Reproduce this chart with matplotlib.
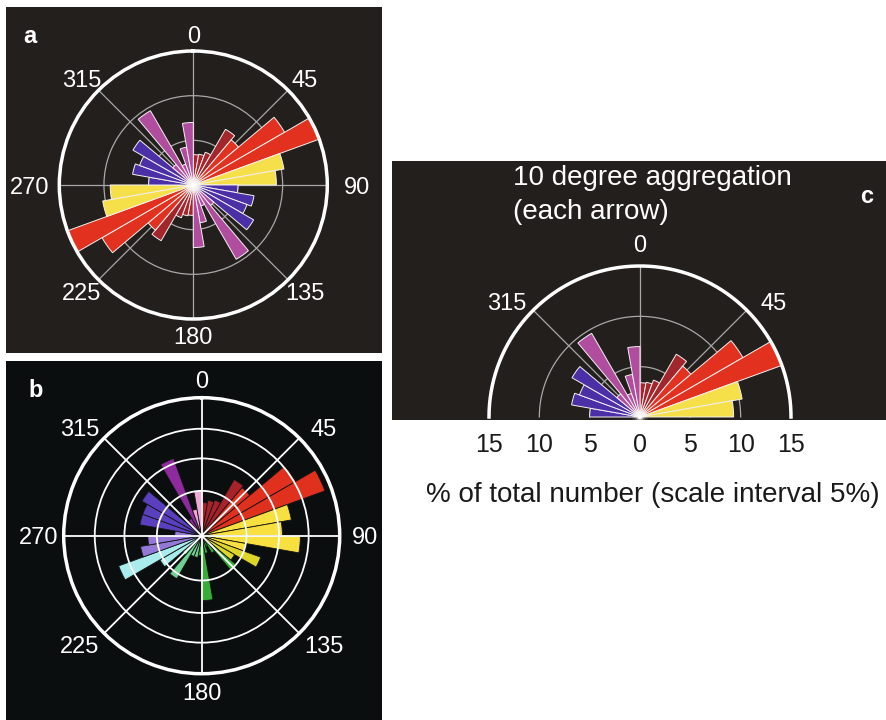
import numpy as np
import matplotlib
matplotlib.use('Agg')
import matplotlib.pyplot as plt
from matplotlib.patches import Rectangle

plt.rcParams['font.family'] = ['Liberation Sans', 'DejaVu Sans']

# ---------------- data ----------------
# Panel a / c : axial data, 10-degree sectors 0..170 (mirrored at +180), % of total number
a_sector_deg = list(range(0, 180, 10))
a_percent = [3.4, 3.5, 3.9, 7.2, 6.6, 11.8, 15.0, 10.3, 9.3,
             5.0, 6.9, 6.4, 7.8, 3.0, 9.6, 2.5, 4.3, 7.0]
a_group = ['darkred'] * 4 + ['red'] * 3 + ['yellow'] * 2 + ['blue'] * 4 + ['magenta'] * 5

# Panel b : directional data, 10-degree sectors 0..350
b_sector_deg = list(range(0, 360, 10))
b_value = [4.8, 5.2, 5.5, 9.4, 9.1, 15.7, 19.0, 13.2, 11.7, 14.3, 6.5, 9.1,
           5.5, 6.5, 2.9, 1.7, 2.6, 9.4, 2.9, 3.2, 3.2, 7.2, 3.6, 7.0,
           12.8, 9.0, 7.8, 3.9, 9.1, 9.1, 10.0, 2.2, 2.9, 11.9, 3.9, 6.5]
b_group = (['darkred'] * 4 + ['red'] * 3 + ['yellow'] * 4 + ['olive'] * 2 +
           ['green'] * 6 + ['lightgreen'] * 4 + ['cyan'] * 2 + ['lavender'] * 3 +
           ['indigo'] * 3 + ['purple'] * 3 + ['pink'] * 2)

dir_labels = ['0', '45', '90', '135', '180', '225', '270', '315']
dir_angles = [0, 45, 90, 135, 180, 225, 270, 315]
c_scale_ticks = [-15, -10, -5, 0, 5, 10, 15]

# ---------------- style ----------------
a_colors = {'darkred': '#a3262c', 'red': '#e2321f', 'yellow': '#f6e04a',
            'blue': '#4b2fa6', 'magenta': '#b04d9f'}
b_colors = {'darkred': '#a8222a', 'red': '#e0301e', 'yellow': '#f8e040',
            'olive': '#ded52a', 'green': '#38ad38', 'lightgreen': '#6fd08f',
            'cyan': '#a8ecec', 'lavender': '#9478d8', 'indigo': '#5a3fbf',
            'purple': '#8e2a9e', 'pink': '#f0a8d8'}
BG_A = '#231f1c'
BG_B = '#0a0e0e'

W, H = 887, 720
fig = plt.figure(figsize=(W / 100, H / 100), dpi=100)
fig.patch.set_facecolor('white')


def fx(px):
    return px / W


def fy(py):
    return 1 - py / H


def bg(x0, y0, x1, y1, color):
    fig.add_artist(Rectangle((fx(x0), fy(y1)), fx(x1 - x0), (y1 - y0) / H,
                             transform=fig.transFigure, facecolor=color,
                             edgecolor='none', zorder=-5))


def polar_ax(cx, cy, R):
    ax = fig.add_axes([fx(cx - R), fy(cy + R), fx(2 * R), 2 * R / H],
                      projection='polar')
    ax.set_theta_zero_location('N')
    ax.set_theta_direction(-1)
    ax.set_facecolor('none')
    return ax


def dir_text(ax, rmax, fs, kv, kh, kxd, kyd, keep=None):
    for lab, ang in zip(dir_labels, dir_angles):
        if keep is not None and ang not in keep:
            continue
        s, c = np.sin(np.radians(ang)), np.cos(np.radians(ang))
        if ang % 90 == 0:
            x, y = kh * s, kv * c
        else:
            x, y = kxd * s, kyd * c
        th = np.arctan2(x, y)
        r = rmax * np.hypot(x, y)
        ax.text(th, r, lab, ha='center', va='center_baseline',
                color='white', fontsize=fs, clip_on=False)


def glow(ax):
    for s, a in ((140, 0.10), (70, 0.2), (30, 0.45), (10, 0.9)):
        ax.scatter([0], [0], s=s, color='white', alpha=a, edgecolors='none',
                   zorder=4, clip_on=False)


# backgrounds
bg(6, 7, 382, 353, BG_A)
bg(6, 361, 382, 720, BG_B)
bg(392, 161, 887, 420, BG_A)

width = np.radians(10)

# ---------------- panel a ----------------
axa = polar_ax(193.3, 185, 134)
RA = 15
for s, v, g in zip(a_sector_deg, a_percent, a_group):
    for off in (0, 180):
        axa.bar(np.radians(s + 5 + off), v, width=width, color=a_colors[g],
                edgecolor='#f4f0f0', linewidth=0.7, zorder=2)
axa.set_ylim(0, RA)
axa.set_xticks(np.radians(dir_angles))
axa.set_xticklabels([])
axa.set_yticks([5, 10])
axa.set_yticklabels([])
axa.grid(True, color='#a8a8a8', linewidth=0.9)
axa.set_axisbelow(True)
axa.spines['polar'].set_color('white')
axa.spines['polar'].set_linewidth(2.5)
glow(axa)
dir_text(axa, RA, 17, kv=1.12, kh=1.22, kxd=1.18, kyd=1.12)
fig.text(fx(29.5), fy(43), 'a', color='white', fontsize=17, fontweight='bold',
         ha='center', va='baseline')

# ---------------- panel b ----------------
axb = polar_ax(201.7, 535.7, 138)
RB = 20
for s, v, g in zip(b_sector_deg, b_value, b_group):
    axb.bar(np.radians(s + 5), v, width=width, color=b_colors[g],
            edgecolor='#151515', linewidth=0.6, zorder=1)
axb.set_ylim(0, RB)
axb.set_xticks(np.radians(dir_angles))
axb.set_xticklabels([])
axb.set_yticks([6.5, 11.2, 15.5])
axb.set_yticklabels([])
axb.grid(True, color='white', linewidth=1.3)
axb.set_axisbelow(False)
axb.spines['polar'].set_color('white')
axb.spines['polar'].set_linewidth(2.5)
dir_text(axb, RB, 17, kv=1.13, kh=1.18, kxd=1.25, kyd=1.11)
fig.text(fx(35.5), fy(397), 'b', color='white', fontsize=17, fontweight='bold',
         ha='center', va='baseline')

# ---------------- panel c ----------------
axc = polar_ax(640, 417, 151)
RC = 15
axc.set_ylim(0, RC)
axc.grid(False)
axc.set_xticks([])
axc.set_yticks([])
axc.spines['polar'].set_visible(False)
for s, v, g in zip(a_sector_deg, a_percent, a_group):
    for off in (0, 180):
        ang = (s + 5 + off) % 360
        if ang < 90 or ang > 270:
            axc.bar(np.radians(ang), v, width=width, color=a_colors[g],
                    edgecolor='#f4f0f0', linewidth=0.7, zorder=2)
th = np.linspace(-np.pi / 2, np.pi / 2, 300)
for rr in (5, 10):
    axc.plot(th, np.full_like(th, rr), color='#a8a8a8', lw=0.9, zorder=1)
for ang in (-45, 0, 45):
    axc.plot([np.radians(ang)] * 2, [0, RC], color='#a8a8a8', lw=0.9, zorder=1)
axc.plot(th, np.full_like(th, RC), color='white', lw=2.5, zorder=3, clip_on=False)
glow(axc)
dir_text(axc, RC, 17, kv=1.15, kh=1.2, kxd=1.25, kyd=1.08, keep=[0, 45, 315])

fig.text(fx(513), fy(185), '10 degree aggregation', color='white', fontsize=20,
         ha='left', va='baseline')
fig.text(fx(513), fy(219), '(each arrow)', color='white', fontsize=20,
         ha='left', va='baseline')
fig.text(fx(867), fy(203), 'c', color='white', fontsize=17, fontweight='bold',
         ha='center', va='baseline')

# scale below panel c
axs = fig.add_axes([fx(640 - 151), fy(460), fx(302), 40 / H])
axs.set_xlim(-RC, RC)
axs.set_ylim(0, 1)
axs.axis('off')
for t in c_scale_ticks:
    axs.text(t, 0.2, str(abs(t)), ha='center', va='baseline', fontsize=18,
             color='#1a1a1a')
fig.text(fx(653), fy(502), '% of total number (scale interval 5%)', fontsize=20,
         color='#1a1a1a', ha='center', va='baseline')

fig.savefig('out.png', dpi=100, facecolor='white')
